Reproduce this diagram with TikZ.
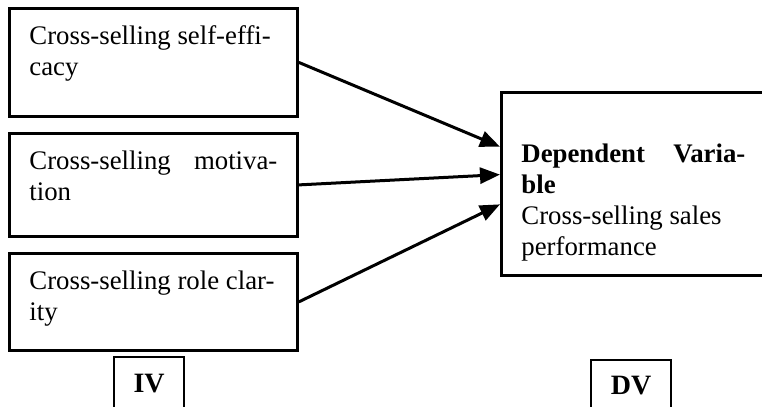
\documentclass[tikz,border=0pt]{standalone}
\usepackage{fontspec}
\setmainfont{Liberation Serif}
\usetikzlibrary{arrows.meta, calc, positioning}

\tikzset{
  varbox/.style={draw, line width=1.4pt, anchor=north west, align=justify,
    inner xsep=10pt, inner ysep=9pt, text height=9pt,
    font=\fontsize{13.4pt}{15.5pt}\selectfont},
  tagbox/.style={draw, line width=1.1pt, anchor=north west,
    font=\fontsize{14pt}{16pt}\selectfont\bfseries},
  link/.style={line width=1.5pt, -{Triangle[length=10pt,width=8pt]}}
}

\begin{document}
\begin{tikzpicture}[x=0.5pt, y=-0.5pt]
	\useasboundingbox (0,0) rectangle (762,407);
	
	% independent variables
	\node[varbox, text width=124pt, text depth=27pt] (efficacy) at (8,7) {Cross-selling self-effi-\\cacy};
	\node[varbox, text width=124pt, text depth=24.5pt] (motivation) at (8,132) {Cross-selling motiva-\linebreak tion};
	\node[varbox, text width=124pt, text depth=21.5pt] (clarity) at (8,252) {Cross-selling role clar-\\ity};
	
	% dependent variable
	\node[varbox, text width=112pt, inner ysep=5pt, text height=30pt, text depth=51.5pt] (dv) at (500,91)
		{\textbf{Dependent Varia-}\linebreak\textbf{ble}\\Cross-selling sales\\performance};
	
	% tags
	\node[tagbox, minimum width=35pt, minimum height=26.5pt] (ivtag) at (113,356) {IV};
	\node[tagbox, minimum width=40pt, minimum height=25pt] (dvtag) at (590,359) {DV};
	
	% arrows
	\draw[link] (efficacy.east) -- ($(dv.north west)!0.3!(dv.south west)$);
	\draw[link] (motivation.east) -- ($(dv.north west)!0.45!(dv.south west)$);
	\draw[link] (clarity.east) -- ($(dv.north west)!0.61!(dv.south west)$);
	
\end{tikzpicture}
\end{document}
